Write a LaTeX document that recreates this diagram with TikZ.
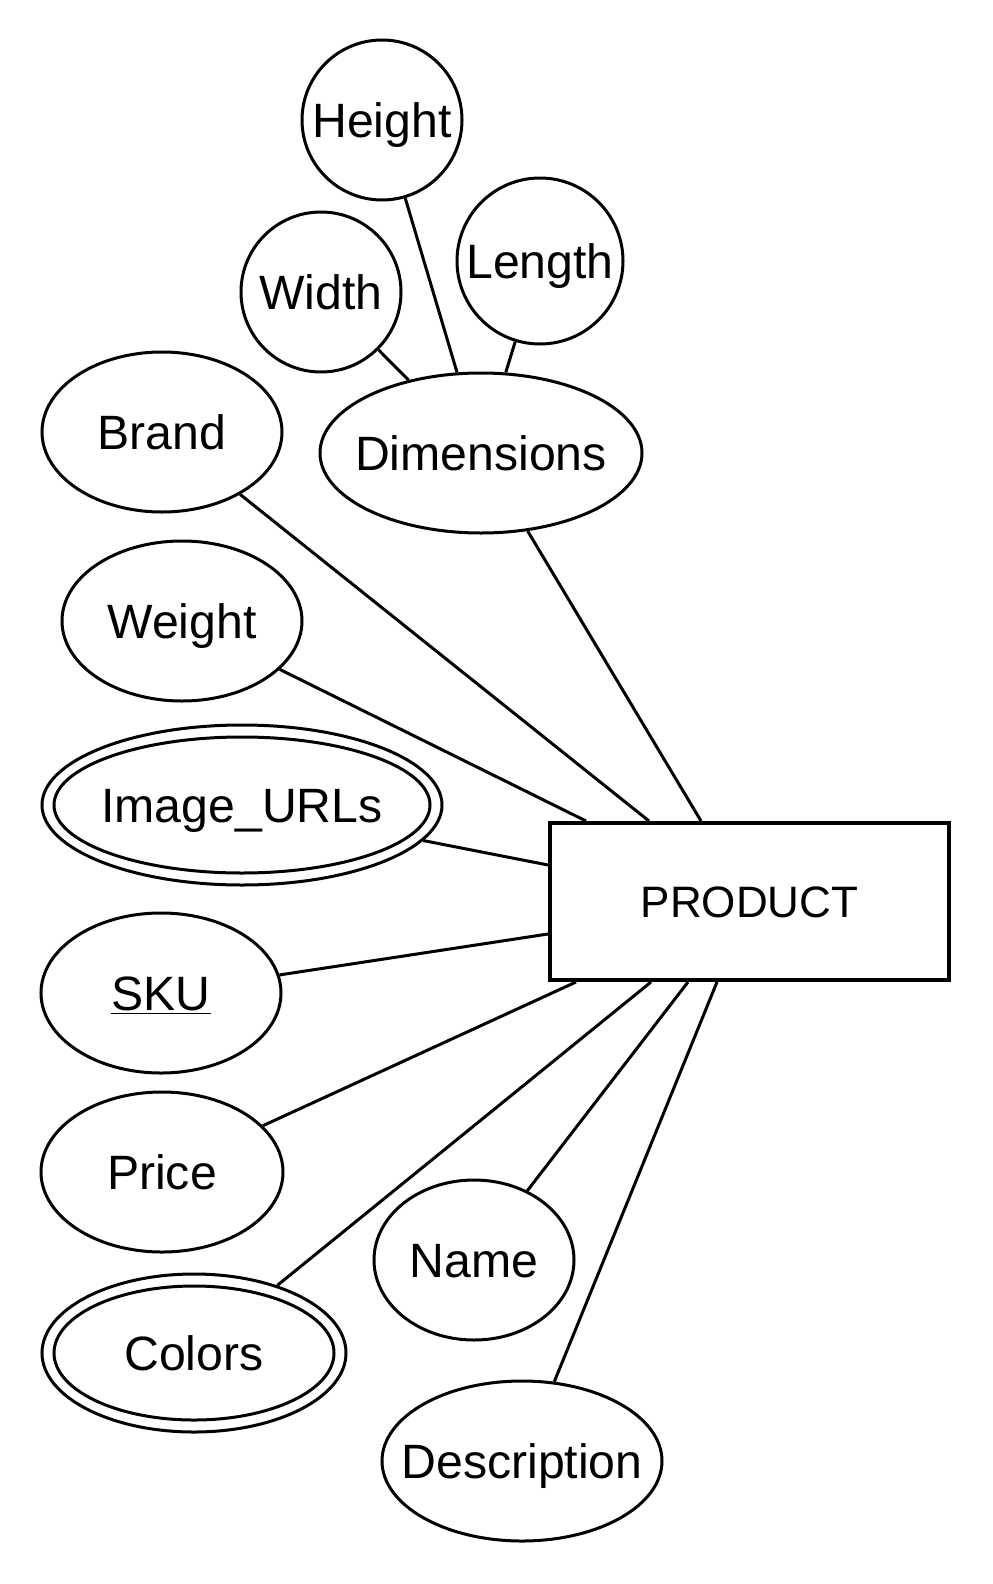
\documentclass[tikz,border=0pt]{standalone}
\usepackage{fontspec}
\setmainfont{Liberation Sans}
\usetikzlibrary{shapes.geometric,calc}

\newcommand\attrlbl[1]{\makebox[0pt]{#1}}

\tikzset{
  attr/.style={ellipse,draw,line width=1.5pt,inner sep=0pt,
    text height=17.3pt,text depth=0pt,font=\fontsize{24.1}{29}\selectfont},
  ent/.style={rectangle,draw,line width=2pt,inner sep=0pt,
    minimum width=199.5pt,minimum height=78.5pt,
    text height=15.8pt,text depth=0pt,font=\fontsize{22}{26}\selectfont},
}

\begin{document}
\begin{tikzpicture}[x=0.5pt,y=-0.5pt,line width=1.5pt]
      \useasboundingbox (0,0) rectangle (992,1584);

      % entity
      \node[ent] (prod) at (749.5,901.5) {PRODUCT};

      % dimensions and its parts
      \node[attr,minimum width=80pt,minimum height=80pt] (height) at (382,120) {\attrlbl{Height}};
      \node[attr,minimum width=80pt,minimum height=80pt] (width) at (321,292) {\attrlbl{Width}};
      \node[attr,minimum width=83pt,minimum height=83pt] (length) at (540,261) {\attrlbl{Length}};
      \node[attr,minimum width=161pt,minimum height=80pt] (dims) at (481,453) {\attrlbl{Dimensions}};
      \foreach \a in {height,width,length}
      { \draw (\a) -- (dims); }

      % attributes
      \node[attr,minimum width=120pt,minimum height=80pt] (brand) at (162,432) {\attrlbl{Brand}};
      \node[attr,minimum width=120pt,minimum height=80pt] (weight) at (182,621) {\attrlbl{Weight}};
      \node[attr,minimum width=200pt,minimum height=80pt] (imgurl) at (242,805) {\attrlbl{Image\_URLs}};
      \draw (imgurl.center) ellipse [x radius=94pt,y radius=34pt];
      \node[attr,minimum width=120pt,minimum height=80pt] (sku) at (161,993) {\attrlbl{\underline{SKU}}};
      \node[attr,minimum width=121pt,minimum height=80pt] (price) at (162,1172) {\attrlbl{Price}};
      \node[attr,minimum width=152pt,minimum height=79pt] (colors) at (194,1353) {\attrlbl{Colors}};
      \draw (colors.center) ellipse [x radius=70pt,y radius=33.5pt];
      \node[attr,minimum width=100pt,minimum height=80pt] (name) at (474,1260) {\attrlbl{Name}};
      \node[attr,minimum width=140pt,minimum height=80pt] (descr) at (522,1461) {\attrlbl{Description}};

      % links to the entity
      \foreach \a/\d in {dims/153,brand/101,weight/38}
      { \path ($(prod.north west)+(\d,0)$) coordinate (t\a); \draw (\a) -- (t\a); }
      \foreach \a/\d in {imgurl/44,sku/113}
      { \path ($(prod.north west)+(0,\d)$) coordinate (t\a); \draw (\a) -- (t\a); }
      \foreach \a/\d in {price/28,colors/103,name/140,descr/169}
      { \path ($(prod.south west)+(\d,0)$) coordinate (t\a); \draw (\a) -- (t\a); }
    \end{tikzpicture}
\end{document}
